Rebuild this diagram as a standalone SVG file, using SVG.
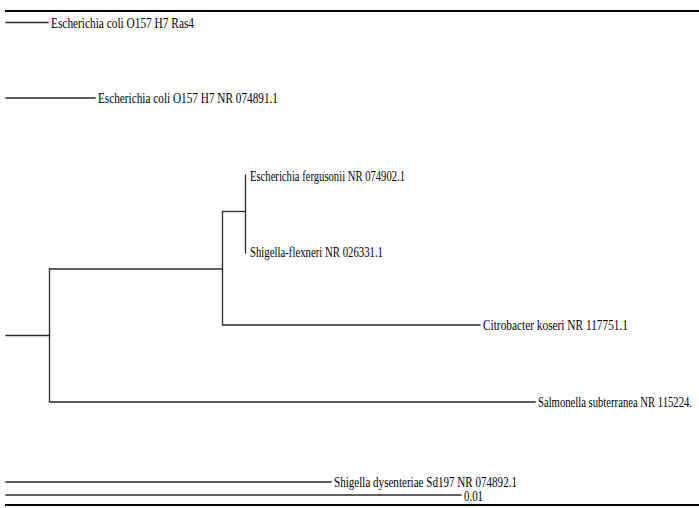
<svg xmlns="http://www.w3.org/2000/svg" width="699" height="508" viewBox="0 0 699 508">
<style>
.br{stroke:#2a2a2a;stroke-width:1.3;fill:none;stroke-linecap:square}
.bd{stroke:#000;stroke-width:2.2;fill:none}
.lb{font-family:"Liberation Serif","Times New Roman",serif;font-size:15px;fill:#000}
</style>
<rect width="699" height="508" fill="#fff"/>
<g id="frame">
<path class="bd" d="M5 11H699"/>
<path class="bd" d="M5 505H699"/>
</g>
<g id="connectors">
<path class="br" d="M6 22.5H48"/>
<path class="br" d="M6 98H95"/>
<path class="br" d="M245.5 175V253"/>
<path class="br" d="M222.5 211.5H245.5"/>
<path class="br" d="M222.5 211.5V325H480"/>
<path class="br" d="M49.5 269H222.5"/>
<path class="br" d="M6 335.5H49.5"/>
<path class="br" d="M49.5 269V402H535"/>
<path class="br" d="M6 482H331"/>
<path class="br" d="M6 495H461"/>
</g>
<g id="leaf-ras4"><text class="lb" x="51" y="27.5" textLength="143" lengthAdjust="spacingAndGlyphs">Escherichia coli O157 H7 Ras4</text></g>
<g id="leaf-ecoli-nr"><text class="lb" x="98" y="103" textLength="180" lengthAdjust="spacingAndGlyphs">Escherichia coli O157 H7 NR 074891.1</text></g>
<g id="leaf-fergusonii"><text class="lb" x="250" y="181" textLength="155" lengthAdjust="spacingAndGlyphs">Escherichia fergusonii NR 074902.1</text></g>
<g id="leaf-flexneri"><text class="lb" x="250" y="257" textLength="133" lengthAdjust="spacingAndGlyphs">Shigella-flexneri NR 026331.1</text></g>
<g id="leaf-citrobacter"><text class="lb" x="483" y="330" textLength="145" lengthAdjust="spacingAndGlyphs">Citrobacter koseri NR 117751.1</text></g>
<g id="leaf-salmonella"><text class="lb" x="538" y="407" textLength="154" lengthAdjust="spacingAndGlyphs">Salmonella subterranea NR 115224.</text></g>
<g id="leaf-dysenteriae"><text class="lb" x="334" y="486.5" textLength="183" lengthAdjust="spacingAndGlyphs">Shigella dysenteriae Sd197 NR 074892.1</text></g>
<g id="scale"><text class="lb" x="464" y="501" textLength="19" lengthAdjust="spacingAndGlyphs">0.01</text></g>
</svg>
